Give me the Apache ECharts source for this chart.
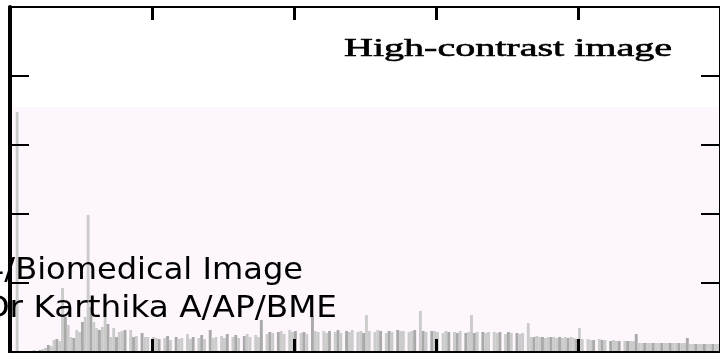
<!DOCTYPE html>
<html>
<head>
<meta charset="utf-8">
<script src="https://cdn.jsdelivr.net/npm/echarts@6/dist/echarts.min.js"></script>
<style>
  html, body { margin: 0; padding: 0; background: #ffffff; }
  #chart { width: 720px; height: 353px; }
</style>
</head>
<body>
<div id="chart"></div>
<script>
// Grey-level histogram of a high-contrast image (pixel counts, tens of pixels per unit)
const grayLevels = Array.from({ length: 250 }, (_, i) => i);

const pixelCounts = [
  0, 0, 2400, 0, 0, 0, 10, 0, 20, 0,
  20, 30, 40, 70, 60, 120, 130, 110, 640, 350,
  270, 150, 140, 220, 200, 300, 350, 1370, 450, 300,
  240, 220, 250, 590, 280, 150, 240, 150, 200, 210,
  220, 0, 220, 150, 160, 0, 190, 150, 150, 0,
  150, 140, 130, 0, 140, 160, 120, 0, 150, 130,
  140, 0, 180, 130, 150, 0, 140, 170, 130, 0,
  220, 140, 150, 0, 160, 140, 180, 0, 150, 170,
  140, 0, 160, 180, 150, 0, 170, 150, 320, 0,
  180, 200, 190, 0, 200, 210, 180, 0, 220, 200,
  210, 0, 190, 200, 180, 0, 360, 210, 200, 0,
  210, 190, 210, 0, 200, 220, 190, 0, 210, 200,
  220, 0, 200, 210, 190, 370, 210, 0, 200, 220,
  210, 0, 190, 210, 200, 0, 220, 210, 210, 0,
  200, 210, 220, 0, 410, 210, 200, 0, 210, 210,
  200, 0, 190, 210, 200, 0, 200, 190, 210, 0,
  190, 200, 370, 190, 200, 0, 200, 190, 200, 0,
  200, 190, 200, 0, 180, 200, 190, 0, 190, 180,
  190, 0, 290, 150, 150, 160, 150, 150, 140, 150,
  150, 150, 140, 150, 140, 150, 140, 150, 140, 130,
  240, 130, 0, 130, 120, 120, 0, 130, 120, 120,
  0, 110, 120, 110, 110, 0, 110, 110, 110, 110,
  180, 90, 90, 90, 90, 90, 90, 90, 90, 90,
  90, 90, 90, 90, 90, 90, 90, 90, 140, 80,
  80, 80, 80, 80, 80, 80, 80, 80, 80, 80
];

// Axis scale: grey level 0..250 in steps of 50, count 0..3450 in five steps
const xTicks = [0, 50, 100, 150, 200, 250];
const yTicks = [0, 690, 1380, 2070, 2760, 3450];

const chart = echarts.init(document.getElementById('chart'), null, { renderer: 'canvas' });

const axisInk = '#000000';

function xAxisCfg(position) {
  return {
    type: 'value', position: position,
    min: xTicks[0], max: xTicks[xTicks.length - 1], interval: xTicks[1] - xTicks[0],
    z: 10,
    axisLine: { show: true, onZero: false, lineStyle: { color: axisInk, width: 2 } },
    axisTick: { show: true, inside: true, length: 13, lineStyle: { color: axisInk, width: 3 } },
    axisLabel: { show: false },
    splitLine: { show: false }
  };
}

function yAxisCfg(position, lineWidth) {
  return {
    type: 'value', position: position,
    min: yTicks[0], max: yTicks[yTicks.length - 1], interval: yTicks[1] - yTicks[0],
    z: 10,
    axisLine: { show: true, onZero: false, lineStyle: { color: axisInk, width: lineWidth } },
    axisTick: { show: true, inside: true, length: 19, lineStyle: { color: axisInk, width: 2 } },
    axisLabel: { show: false },
    splitLine: { show: false }
  };
}

chart.setOption({
  animation: false,
  backgroundColor: '#ffffff',
  grid: { left: 10, top: 7, width: 717.5, height: 345, containLabel: false },
  xAxis: [xAxisCfg('bottom'), xAxisCfg('top')],
  yAxis: [yAxisCfg('left', 4), yAxisCfg('right', 2)],
  series: [{
    type: 'bar',
    xAxisIndex: 0, yAxisIndex: 0,
    barWidth: 2.9,
    z: 2,
    data: grayLevels.map((g, i) => [g + 0.5, pixelCounts[i]]),
    itemStyle: {
      color: function (p) { return p.dataIndex % 3 === 1 ? '#a9a9a9' : '#cbcbcb'; }
    }
  }],
  graphic: [
    {
      type: 'rect', z: -10, silent: true,
      shape: { x: 12, y: 107, width: 708, height: 245 },
      style: { fill: '#fdf7fd' }
    },
    {
      type: 'text', z: 100, silent: true,
      x: 344, y: 49, scaleX: 1.54,
      style: {
        text: 'High-contrast image',
        font: '26px "Liberation Serif", "DejaVu Serif", serif',
        fill: '#000000', stroke: '#000000', lineWidth: 0.6,
        textAlign: 'left', textVerticalAlign: 'middle'
      }
    },
    {
      type: 'text', z: 100, silent: true,
      x: 303, y: 271.6, scaleX: 1.07,
      style: {
        text: '4/Biomedical Image',
        font: '30px "DejaVu Sans", sans-serif',
        fill: '#000000', textAlign: 'right', textVerticalAlign: 'middle'
      }
    },
    {
      type: 'text', z: 100, silent: true,
      x: 337, y: 309.6, scaleX: 1.09,
      style: {
        text: 'Dr Karthika A/AP/BME',
        font: '30px "DejaVu Sans", sans-serif',
        fill: '#000000', textAlign: 'right', textVerticalAlign: 'middle'
      }
    }
  ]
});
</script>
</body>
</html>
